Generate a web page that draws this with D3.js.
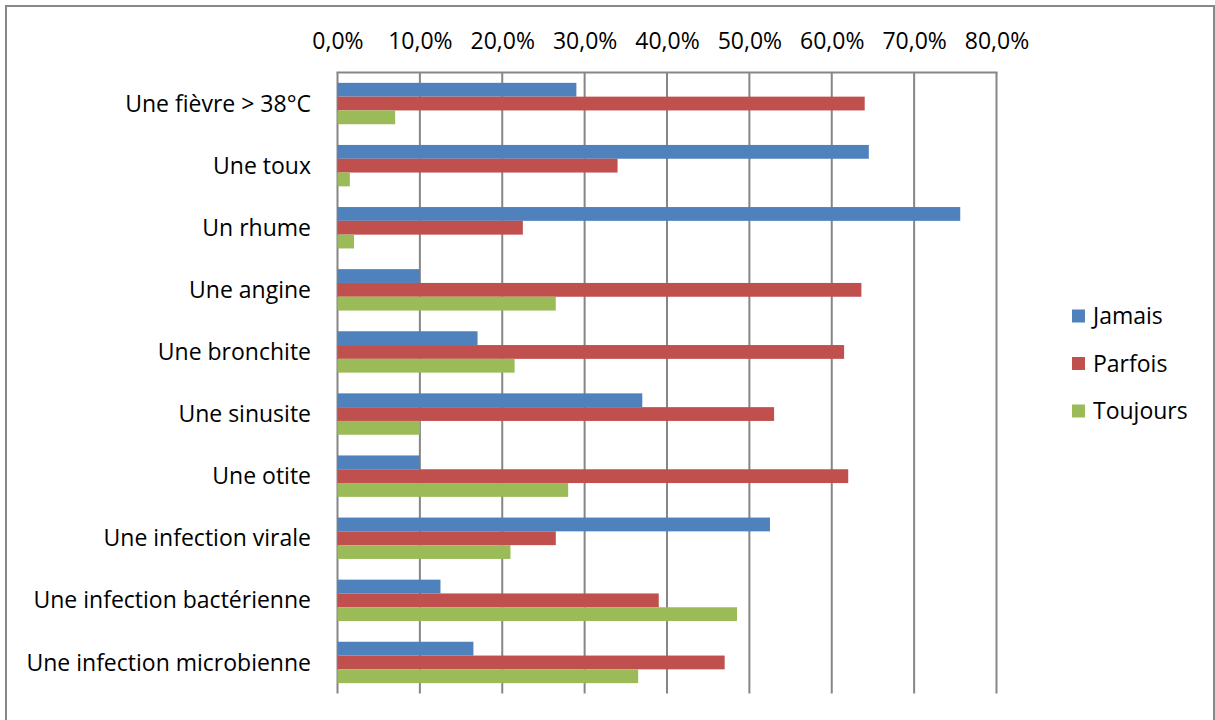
<!DOCTYPE html>
<html><head><meta charset="utf-8">
<script src="https://cdn.jsdelivr.net/npm/d3@7"></script>
<style>html,body{margin:0;padding:0;background:#fff;} text{font-family:"Open Sans",sans-serif;fill:#000;}</style>
</head><body>
<svg id="c" width="1215" height="720"></svg>
<script>
const categories = ["Une fièvre > 38°C","Une toux","Un rhume","Une angine","Une bronchite","Une sinusite","Une otite","Une infection virale","Une infection bactérienne","Une infection microbienne"];
const seriesNames = ["Jamais","Parfois","Toujours"];
const jamais   = [29.0, 64.5, 75.6, 10.0, 17.0, 37.0, 10.0, 52.5, 12.5, 16.5];
const parfois  = [64.0, 34.0, 22.5, 63.6, 61.5, 53.0, 62.0, 26.5, 39.0, 47.0];
const toujours = [ 7.0,  1.5,  2.0, 26.5, 21.5, 10.0, 28.0, 21.0, 48.5, 36.5];
const tickValues = [0,10,20,30,40,50,60,70,80];
const colors = ["#4F81BD","#C0504D","#9BBB59"];

const svg = d3.select("#c");
const series = [jamais, parfois, toujours];
svg.append("rect").attr("x",6).attr("y",6).attr("width",1208).attr("height",720).attr("fill","none").attr("stroke","#888").attr("stroke-width",2);

const x = d3.scaleLinear().domain([0,80]).range([337.5,996.5]);
const y = d3.scaleBand().domain(categories).range([72.5,693.5]).paddingInner(0).paddingOuter(0);
const inner = d3.scaleBand().domain(seriesNames).range([0,y.bandwidth()]).paddingInner(0).paddingOuter(0.75);

const g = svg.append("g");
g.selectAll("line.grid").data(tickValues).enter().append("line")
  .attr("x1",d=>x(d)).attr("x2",d=>x(d)).attr("y1",72.5).attr("y2",693.5)
  .attr("stroke","#868686").attr("stroke-width",2);
g.append("line").attr("x1",x(0)-1).attr("x2",x(80)+1).attr("y1",72.5).attr("y2",72.5).attr("stroke","#868686").attr("stroke-width",2);

const FS = 23;
const ax = svg.append("g").attr("transform","translate(0,52)").call(d3.axisTop(x).tickValues(tickValues).tickSize(0).tickFormat(d=>d.toFixed(1).replace(".",",")+"%"));
ax.select(".domain").remove();
ax.selectAll("text").attr("font-size",FS).style("font-family","'Open Sans',sans-serif").attr("fill","#000");

series.forEach((vals,si)=>{
  svg.append("g").selectAll("rect").data(vals).enter().append("rect")
    .attr("x",x(0)).attr("y",(d,i)=>y(categories[i])+inner(seriesNames[si]))
    .attr("width",d=>x(d)-x(0)).attr("height",inner.bandwidth())
    .attr("fill",colors[si]);
});

svg.append("g").selectAll("text").data(categories).enter().append("text")
  .attr("x",311).attr("y",d=>y(d)+y.bandwidth()/2).attr("dy","0.35em")
  .attr("text-anchor","end").attr("font-size",FS).text(d=>d);

const lg = svg.append("g");
seriesNames.forEach((n,i)=>{
  const cy = 316 + i*47.5;
  lg.append("rect").attr("x",1072).attr("y",cy-6.5).attr("width",13).attr("height",13).attr("fill",colors[i]);
  lg.append("text").attr("x",1093).attr("y",cy).attr("dy","0.35em").attr("font-size",FS).text(n);
});
</script>
</body></html>
